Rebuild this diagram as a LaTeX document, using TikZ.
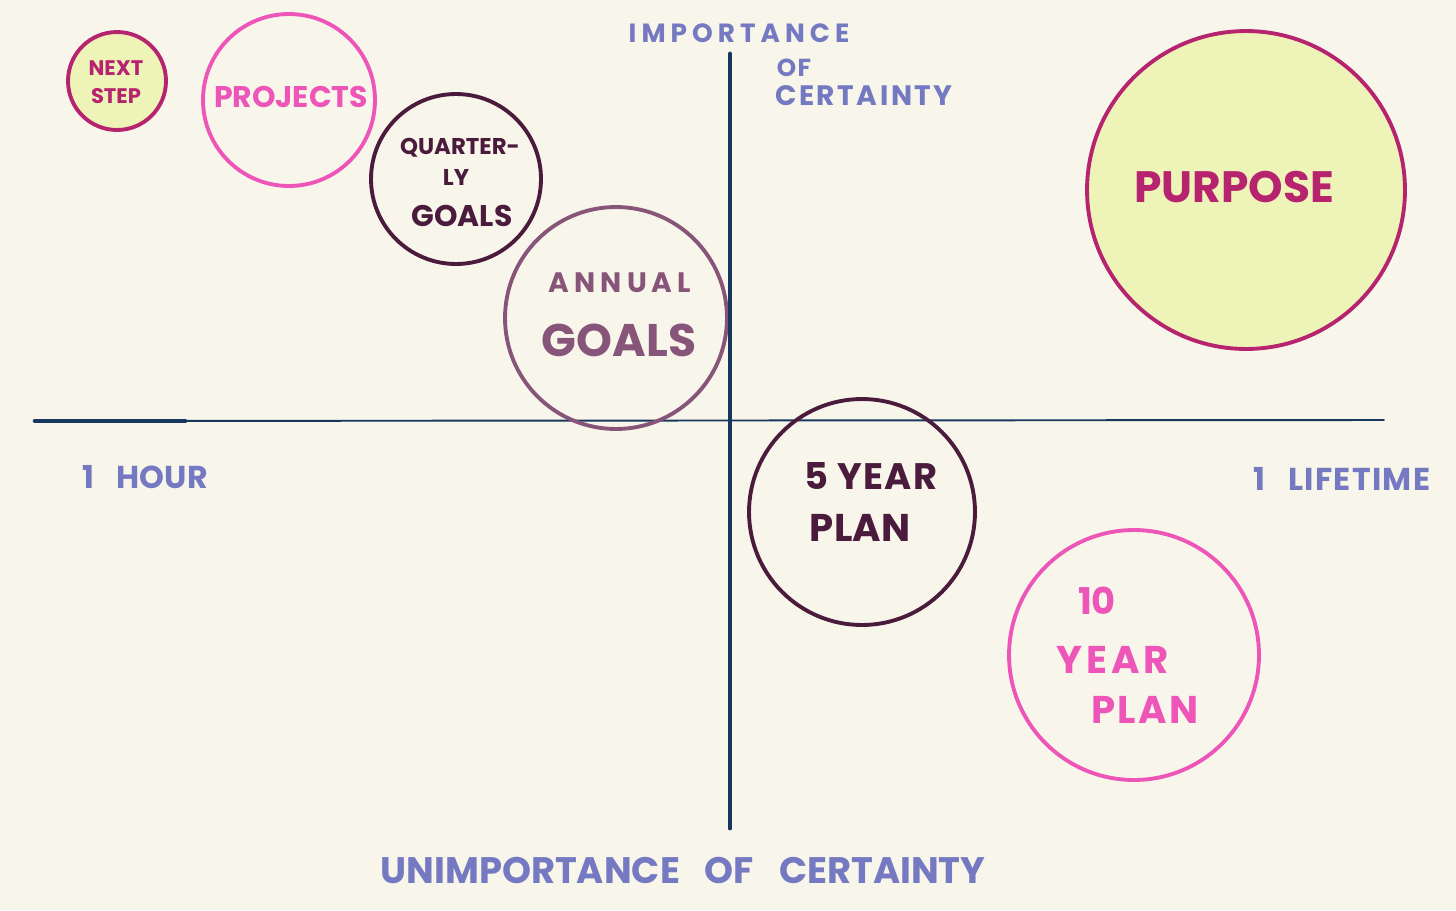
\documentclass[tikz,border=0pt]{standalone}
\usepackage{fontspec}
\setmainfont{Poppins}
\definecolor{cream}{HTML}{F8F6EA}
\definecolor{navy}{HTML}{17375E}
\definecolor{lilac}{HTML}{7479C2}
\definecolor{berry}{HTML}{B6236E}
\definecolor{bubblegum}{HTML}{EE55B8}
\definecolor{plum}{HTML}{4A1B3C}
\definecolor{mauve}{HTML}{88557A}
\definecolor{lime}{HTML}{EEF4B8}
\begin{document}
\begin{tikzpicture}[x=0.02cm,y=-0.02cm,
    ring/.style={circle,draw,line width=2.2pt,inner sep=0pt},
    hand/.style 2 args={font=\bfseries\fontsize{#1}{#1}\selectfont\addfontfeatures{LetterSpace=#2},inner sep=0pt},
    axis/.style={draw=navy,line cap=round}]
  \fill[cream] (0,0) rectangle (1456,910);
  % axes
  \coordinate (west) at (35,421);
  \coordinate (knee) at (185,421);
  \coordinate (east) at (1384,420);
  \coordinate (north) at (730,54);
  \coordinate (south) at (730,828);
  \draw[axis,line width=1.1pt] (west) -- (east);
  \draw[axis,line width=2.6pt] (west) -- (knee);
  % circles
  \node[ring,draw=berry,fill=lime,minimum size=1.96cm] (nextstep) at (117,81) {};
  \node[ring,draw=bubblegum,minimum size=3.44cm] (projects) at (289,100) {};
  \node[ring,draw=plum,minimum size=3.40cm] (quarterly) at (456,179) {};
  \node[ring,draw=mauve,minimum size=4.44cm] (annual) at (616,318) {};
  \node[ring,draw=berry,fill=lime,minimum size=6.36cm] (purpose) at (1246,190) {};
  \node[ring,draw=plum,minimum size=4.52cm] (fiveyear) at (862,512) {};
  \node[ring,draw=bubblegum,minimum size=5.00cm] (tenyear) at (1134,655) {};
  \draw[axis,line width=2.8pt] (north) -- (south);
  % labels in the circles
  \node[hand={12}{0},text=berry] (nextA) at (116,68) {NEXT};
  \node[hand={12}{0},text=berry] (nextB) at (116,96) {STEP};
  \node[hand={17}{0},text=bubblegum] (projA) at (291,97) {PROJECTS};
  \node[hand={13}{0},text=plum] (quarA) at (460,148) {QUARTER-};
  \node[hand={13}{0},text=plum] (quarB) at (456,177) {LY};
  \node[hand={17}{0},text=plum] (quarC) at (462,216) {GOALS};
  \node[hand={16}{18},text=mauve] (annA) at (620,283) {ANNUAL};
  \node[hand={26}{0},text=mauve] (annB) at (619,340) {GOALS};
  \node[hand={25}{0},text=berry] (purpA) at (1234,187) {PURPOSE};
  \node[hand={21}{3},text=plum] (fiveA) at (871,476) {5 YEAR};
  \node[hand={22}{0},text=plum] (fiveB) at (860,528) {PLAN};
  \node[hand={21}{0},text=bubblegum] (tenA) at (1097,601) {10};
  \node[hand={22}{10},text=bubblegum] (tenB) at (1113,660) {YEAR};
  \node[hand={22}{6},text=bubblegum] (tenC) at (1145,710) {PLAN};
  % axis labels
  \node[hand={15}{19},text=lilac] (impA) at (739,33) {IMPORTANCE};
  \node[hand={14}{6},text=lilac] (impB) at (794,68) {OF};
  \node[hand={16}{9},text=lilac] (impC) at (864,96) {CERTAINTY};
  \node[hand={18}{0},text=lilac] (hour) at (145,477) {1\hspace{0.45cm}HOUR};
  \node[hand={18}{4},text=lilac] (life) at (1342,479) {1\hspace{0.45cm}LIFETIME};
  \node[hand={21}{0},text=lilac] (unimp) at (683,870) {UNIMPORTANCE\hspace{0.5cm}OF\hspace{0.5cm}CERTAINTY};
\end{tikzpicture}
\end{document}
